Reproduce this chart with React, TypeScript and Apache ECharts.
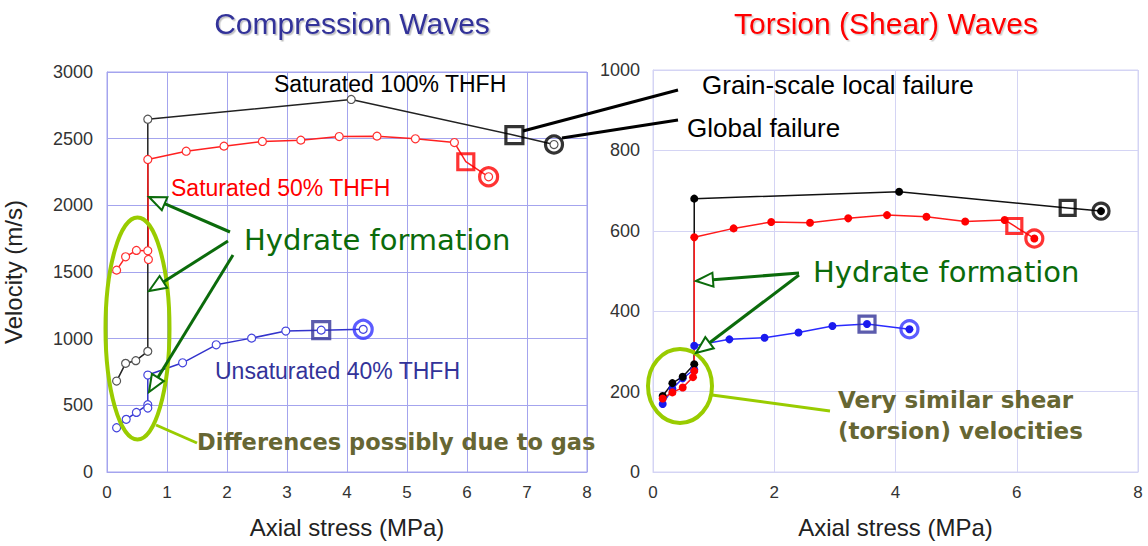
import React, { useEffect, useRef } from "react";
import * as echarts from "echarts";

// ---- Compression waves (left) : [axial stress MPa, velocity m/s]
const pSat100: number[][] = [[0.16, 682], [0.31, 815], [0.48, 835], [0.68, 905], [0.68, 2646], [4.07, 2794], [6.79, 2526], [7.45, 2456]];
const pSat50: number[][] = [[0.16, 1514], [0.31, 1614], [0.49, 1662], [0.68, 1659], [0.69, 1594], [0.68, 2344], [1.32, 2406], [1.95, 2444], [2.59, 2479], [3.23, 2489], [3.87, 2516], [4.5, 2519], [5.14, 2499], [5.79, 2471], [5.98, 2327], [6.36, 2214]];
const pUnsat40: number[][] = [[0.16, 332], [0.32, 395], [0.49, 447], [0.68, 505], [0.68, 480], [0.68, 727], [1.26, 819], [1.82, 954], [2.41, 1004], [2.98, 1057], [3.57, 1064], [4.27, 1070]];

// ---- Torsion waves (right)
const sSat100: number[][] = [[0.16, 189], [0.32, 221], [0.49, 237], [0.68, 268], [0.68, 680], [4.06, 697], [6.84, 657], [7.39, 649]];
const sSat50: number[][] = [[0.16, 183], [0.32, 198], [0.49, 210], [0.66, 236], [0.68, 251], [0.68, 584], [1.33, 606], [1.95, 622], [2.59, 620], [3.22, 631], [3.86, 639], [4.51, 635], [5.15, 623], [5.8, 627], [5.96, 612], [6.29, 581]];
const sUnsat40: number[][] = [[0.16, 169], [0.32, 207], [0.49, 233], [0.68, 255], [0.68, 314], [1.26, 330], [1.84, 334], [2.4, 347], [2.96, 363], [3.53, 368], [4.23, 355]];

const leftYTicks = [0, 500, 1000, 1500, 2000, 2500, 3000];
const rightYTicks = [0, 200, 400, 600, 800, 1000];

const FONT = "'Liberation Sans', Arial, sans-serif";
const HAND = "'DejaVu Sans', sans-serif";
const GREEN = "#0b6b0b";
const LIME = "#99cc00";
const OLIVE = "#666633";

function arrowElems(x1: number, y1: number, x2: number, y2: number) {
  const dx = x2 - x1, dy = y2 - y1;
  const len = Math.hypot(dx, dy);
  const ux = dx / len, uy = dy / len;
  const hl = 17, hw = 7;
  const bx = x2 - ux * hl, by = y2 - uy * hl;
  const px = -uy, py = ux;
  return [
    { type: "line", shape: { x1, y1, x2: bx, y2: by }, style: { stroke: GREEN, lineWidth: 3 }, z: 100 },
    {
      type: "polygon",
      shape: { points: [[x2, y2], [bx + px * hw, by + py * hw], [bx - px * hw, by - py * hw]] },
      style: { fill: "#ffffff", stroke: GREEN, lineWidth: 2 },
      z: 100,
    },
  ];
}

function txt(text: string, x: number, y: number, fill: string, font: string, align = "left") {
  return { type: "text", x, y, z: 100, style: { text, fill, font, textAlign: align, textVerticalAlign: "middle" } };
}

export default function App() {
  const ref = useRef<HTMLDivElement>(null);
  useEffect(() => {
    document.body.style.margin = "0";
    const chart = echarts.init(ref.current!, null, { renderer: "svg" });

    const line = (name: string, data: number[][], color: string, mcolor: string, idx: number, hollow: boolean, noMark: number[]) => ({
      type: "line",
      name,
      xAxisIndex: idx,
      yAxisIndex: idx,
      data: data.map((p, i) => (noMark.includes(i) ? { value: p, symbol: "none" } : p)),
      symbol: "circle",
      symbolSize: 8,
      showSymbol: true,
      lineStyle: { color, width: 1.5 },
      itemStyle: hollow ? { color: "#ffffff", borderColor: mcolor, borderWidth: 1.2 } : { color: mcolor, borderWidth: 0 },
      z: 3,
    });

    const fail = (idx: number, items: { p: number[]; sym: string; color: string; size: number }[]) => ({
      type: "scatter",
      xAxisIndex: idx,
      yAxisIndex: idx,
      z: 5,
      data: items.map((it) => ({
        value: it.p,
        symbol: it.sym,
        symbolSize: it.size,
        itemStyle: { color: "rgba(0,0,0,0)", borderColor: it.color, borderWidth: 3.2 },
      })),
    });

    const last = (a: number[][]) => a[a.length - 1];
    const prev = (a: number[][]) => a[a.length - 2];
    const plain = (v: number) => String(v);

    const xAxisCommon = {
      type: "value",
      min: 0,
      max: 8,
      name: "Axial stress (MPa)",
      nameLocation: "middle",
      nameGap: 43,
      nameTextStyle: { fontFamily: FONT, fontSize: 24, color: "#222" },
      axisTick: { show: false },
      axisLabel: { fontFamily: FONT, fontSize: 17, color: "#333", margin: 12, formatter: plain },
    };

    const option = {
      animation: false,
      backgroundColor: "#ffffff",
      grid: [
        { left: 106, top: 72, width: 481, height: 400, show: true, borderColor: "#a4a4ee", borderWidth: 1, backgroundColor: "#fff" },
        { left: 653, top: 70, width: 485, height: 402, show: true, borderColor: "#d4d4f4", borderWidth: 1, backgroundColor: "#fff" },
      ],
      xAxis: [
        { ...xAxisCommon, gridIndex: 0, interval: 1, axisLine: { lineStyle: { color: "#a4a4ee" } }, splitLine: { lineStyle: { color: "#a4a4ee", width: 1 } } },
        { ...xAxisCommon, gridIndex: 1, interval: 2, axisLine: { lineStyle: { color: "#d4d4f4" } }, splitLine: { lineStyle: { color: "#d4d4f4", width: 1 } } },
      ],
      yAxis: [
        {
          type: "value", gridIndex: 0, min: leftYTicks[0], max: leftYTicks[leftYTicks.length - 1], interval: 500,
          name: "Velocity (m/s)", nameLocation: "middle", nameGap: 82, nameRotate: 90,
          nameTextStyle: { fontFamily: FONT, fontSize: 24, color: "#222" },
          axisLine: { show: true, lineStyle: { color: "#a4a4ee" } }, axisTick: { show: false },
          axisLabel: { fontFamily: FONT, fontSize: 18, color: "#333", margin: 14, formatter: plain },
          splitLine: { lineStyle: { color: "#a4a4ee", width: 1 } },
        },
        {
          type: "value", gridIndex: 1, min: rightYTicks[0], max: rightYTicks[rightYTicks.length - 1], interval: 200,
          axisLine: { show: true, lineStyle: { color: "#d4d4f4" } }, axisTick: { show: false },
          axisLabel: { fontFamily: FONT, fontSize: 18, color: "#333", margin: 13, formatter: plain },
          splitLine: { lineStyle: { color: "#d4d4f4", width: 1 } },
        },
      ],
      series: [
        line("Unsaturated 40% THFH", pUnsat40, "#3333cc", "#4444dd", 0, true, []),
        line("Saturated 100% THFH", pSat100, "#222222", "#555555", 0, true, [6]),
        line("Saturated 50% THFH", pSat50, "#ff2020", "#ff3030", 0, true, [14]),
        fail(0, [
          { p: prev(pSat100), sym: "rect", color: "#000000", size: 17 },
          { p: last(pSat100), sym: "circle", color: "#000000", size: 17 },
          { p: prev(pSat50), sym: "rect", color: "#ff0000", size: 16 },
          { p: last(pSat50), sym: "circle", color: "#ff0000", size: 18 },
          { p: prev(pUnsat40), sym: "rect", color: "#333399", size: 17 },
          { p: last(pUnsat40), sym: "circle", color: "#3333ff", size: 18 },
        ]),
        line("Unsaturated 40% THFH (S)", sUnsat40, "#2a2aff", "#1a1aee", 1, false, []),
        line("Saturated 100% THFH (S)", sSat100, "#111111", "#000000", 1, false, [6]),
        line("Saturated 50% THFH (S)", sSat50, "#ff1a1a", "#ff0000", 1, false, [14]),
        fail(1, [
          { p: prev(sSat100), sym: "rect", color: "#000000", size: 15 },
          { p: last(sSat100), sym: "circle", color: "#000000", size: 16 },
          { p: prev(sSat50), sym: "rect", color: "#ff0000", size: 15 },
          { p: last(sSat50), sym: "circle", color: "#ff0000", size: 17 },
          { p: prev(sUnsat40), sym: "rect", color: "#333399", size: 16 },
          { p: last(sUnsat40), sym: "circle", color: "#3333ff", size: 17 },
        ]),
      ],
      graphic: {
        elements: [
          {
            type: "text", x: 352, y: 23, z: 100,
            style: { text: "Compression Waves", fill: "#333399", font: `30px ${FONT}`, textAlign: "center", textVerticalAlign: "middle", textShadowColor: "rgba(0,0,0,0.25)", textShadowOffsetX: 1.5, textShadowOffsetY: 1.5, textShadowBlur: 1 },
          },
          {
            type: "text", x: 886, y: 23, z: 100,
            style: { text: "Torsion (Shear) Waves", fill: "#ff0000", font: `30px ${FONT}`, textAlign: "center", textVerticalAlign: "middle", textShadowColor: "rgba(0,0,0,0.2)", textShadowOffsetX: 1.5, textShadowOffsetY: 1.5, textShadowBlur: 1 },
          },
          txt("Saturated 100% THFH", 274, 84, "#000000", `23px ${FONT}`),
          txt("Saturated 50% THFH", 171, 188, "#ff0000", `23px ${FONT}`),
          txt("Unsaturated 40% THFH", 215, 371, "#333399", `23px ${FONT}`),
          txt("Hydrate formation", 244, 240, GREEN, `29px ${HAND}`),
          txt("Hydrate formation", 813, 272, GREEN, `29px ${HAND}`),
          txt("Differences possibly due to gas", 197, 442, OLIVE, `bold 22.5px ${HAND}`),
          txt("Very similar shear", 838, 400, OLIVE, `bold 23px ${HAND}`),
          txt("(torsion) velocities", 838, 431, OLIVE, `bold 23px ${HAND}`),
          txt("Grain-scale local failure", 702, 85, "#000000", `26px ${FONT}`),
          txt("Global failure", 687, 128, "#000000", `26px ${FONT}`),
          { type: "line", z: 90, shape: { x1: 523, y1: 131, x2: 678, y2: 90 }, style: { stroke: "#000", lineWidth: 3 } },
          { type: "line", z: 90, shape: { x1: 562, y1: 138, x2: 678, y2: 120 }, style: { stroke: "#000", lineWidth: 3 } },
          { type: "ellipse", z: 95, shape: { cx: 137.5, cy: 328.5, rx: 32, ry: 111 }, style: { fill: "none", stroke: LIME, lineWidth: 4 } },
          { type: "line", z: 95, shape: { x1: 156, y1: 425, x2: 197, y2: 443 }, style: { stroke: LIME, lineWidth: 3 } },
          { type: "ellipse", z: 95, shape: { cx: 680, cy: 386, rx: 32, ry: 37 }, style: { fill: "none", stroke: LIME, lineWidth: 4 } },
          { type: "line", z: 95, shape: { x1: 712, y1: 395, x2: 830, y2: 411 }, style: { stroke: LIME, lineWidth: 3 } },
          ...arrowElems(230, 232, 149, 197),
          ...arrowElems(228, 241, 149, 291),
          ...arrowElems(233, 255, 149, 392),
          ...arrowElems(799, 273, 696, 281),
          ...arrowElems(799, 275, 696, 353),
        ],
      },
    };

    chart.setOption(option as any);
    return () => chart.dispose();
  }, []);
  return <div ref={ref} style={{ width: 1148, height: 546 }} />;
}
